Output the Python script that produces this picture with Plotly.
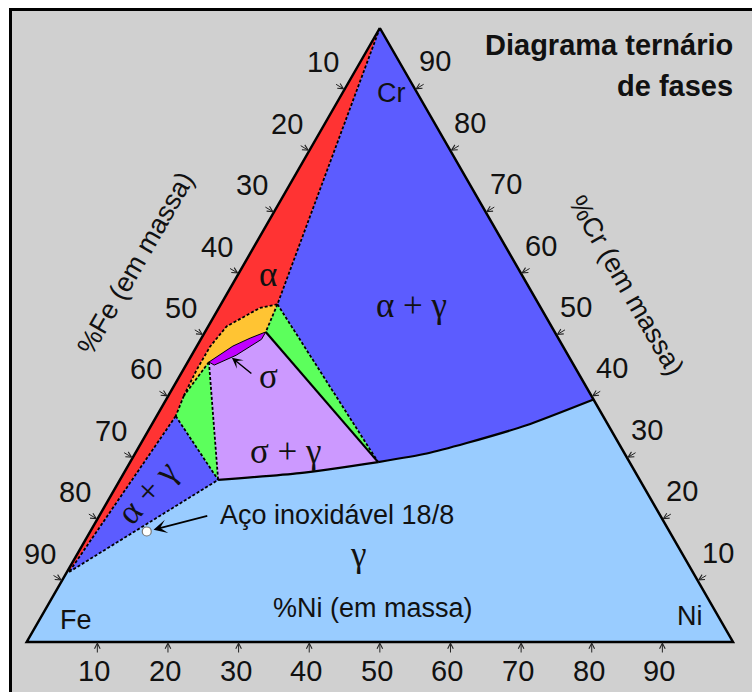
import math
import plotly.graph_objects as go

# ---------------------------------------------------------------------------
# Data: Fe-Cr-Ni isothermal section. Every point is (%Cr, %Ni); %Fe = rest.
# ---------------------------------------------------------------------------
ticks = [10, 20, 30, 40, 50, 60, 70, 80, 90]

corners = [(100.0, 0.0), (0.0, 0.0), (0.0, 100.0)]          # Cr, Fe, Ni

alpha_edge = [(100.0, 0.0), (55.0, 8.0)]
yellow_upper = [(55.0, 8.0), (54.4, 5.8), (51.4, 2.6), (48.1, 1.9),
                (44.3, 1.9), (40.1, 2.2)]
yellow_right = [(55.0, 8.0), (50.5, 8.6)]
sigma_upper = [(50.5, 8.6), (49.5, 6.9), (48.2, 5.1), (45.9, 3.2), (45.6, 3.0)]
sigma_lower = [(45.6, 3.0), (45.1, 4.0), (46.7, 6.3), (49.3, 8.6), (50.5, 8.6)]
yellow_lower = [(45.6, 3.0), (43.0, 2.6), (40.1, 2.2)]
red_green = [(40.1, 2.2), (36.8, 2.7)]
red_blue = [(36.8, 2.7), (11.4, 0.3)]
green_blue = [(36.8, 2.7), (26.4, 13.9)]
lav_left = [(45.6, 3.0), (26.4, 13.9)]
blue_gamma = [(11.4, 0.3), (26.4, 13.9)]
lav_bottom = [(26.4, 13.9), (27.5, 24.9), (29.3, 35.1)]
lav_right = [(50.5, 8.6), (29.3, 35.1)]
green_edge = [(55.0, 8.0), (29.3, 35.1)]
gamma_limit = [(29.3, 35.1), (30.7, 41.3), (32.4, 46.1), (35.3, 53.1), (39.5, 60.5)]
alpha_foot = (11.6, 0.0)

steel_18_8 = (18.0, 8.0)

# ---------------------------------------------------------------------------
SQ3 = math.sqrt(3) / 2.0


def tern(cr, ni):
    """(%Cr, %Ni) -> cartesian position inside the unit-100 triangle."""
    return ni + cr / 2.0, cr * SQ3


def xy(points):
    pts = [tern(cr, ni) for cr, ni in points]
    return [p[0] for p in pts], [p[1] for p in pts]


def rev(p):
    return p[::-1]


W, H = 752, 692
BLUE_DARK = "#5c5cff"
BLUE_LIGHT = "#99ccff"
RED = "#ff3333"
YELLOW = "#ffc433"
GREEN = "#5cff5c"
LAVENDER = "#cc99ff"
PURPLE = "#c000ff"
GRAY = "#d0d0d0"
SANS = "Liberation Sans, Arial, sans-serif"
SERIF = "Liberation Serif, Times New Roman, serif"

regions = [
    (BLUE_LIGHT, corners),
    (BLUE_DARK, [alpha_edge[0]] + rev(gamma_limit) + [alpha_edge[1]]),
    (RED, alpha_edge + yellow_upper[1:] + red_green[1:] + red_blue[1:] + [alpha_foot]),
    (YELLOW, yellow_right + sigma_upper[1:] + yellow_lower[1:] + rev(yellow_upper)[1:]),
    (GREEN, green_edge + [yellow_right[1]]),
    (GREEN, lav_left + rev(green_blue)[1:] + rev(red_green)[1:] + rev(yellow_lower)[1:]),
    (LAVENDER, lav_right + rev(lav_bottom)[1:] + rev(lav_left)[1:] + sigma_lower[1:]),
    (PURPLE, sigma_upper + sigma_lower[1:]),
    (BLUE_DARK, green_blue + rev(blue_gamma)[1:] + rev(red_blue)[1:]),
]

dashed = [alpha_edge, yellow_upper, yellow_right, yellow_lower, red_green,
          red_blue, green_blue, lav_left, blue_gamma, green_edge]
solid = [lav_bottom, lav_right, gamma_limit]
thin = [sigma_upper, sigma_lower]

fig = go.Figure()

for color, poly in regions:
    xs, ys = xy(poly)
    fig.add_trace(go.Scatter(x=xs, y=ys, mode="lines", fill="toself",
                             fillcolor=color, line=dict(width=0),
                             hoverinfo="skip", showlegend=False))

for seg in dashed:
    xs, ys = xy(seg)
    fig.add_trace(go.Scatter(x=xs, y=ys, mode="lines",
                             line=dict(color="black", width=1.8, dash="3px,2px"),
                             hoverinfo="skip", showlegend=False))
for seg in solid:
    xs, ys = xy(seg)
    fig.add_trace(go.Scatter(x=xs, y=ys, mode="lines", line_shape="spline",
                             line=dict(color="black", width=2.2, smoothing=0.6),
                             hoverinfo="skip", showlegend=False))
for seg in thin:
    xs, ys = xy(seg)
    fig.add_trace(go.Scatter(x=xs, y=ys, mode="lines",
                             line=dict(color="black", width=1.0),
                             hoverinfo="skip", showlegend=False))

# triangle frame
xs, ys = xy(corners + [corners[0]])
fig.add_trace(go.Scatter(x=xs, y=ys, mode="lines",
                         line=dict(color="black", width=2.5),
                         hoverinfo="skip", showlegend=False))

# 18/8 stainless steel composition
sx, sy = tern(*steel_18_8)
fig.add_trace(go.Scatter(x=[sx], y=[sy], mode="markers",
                         marker=dict(size=9, color="white",
                                     line=dict(color="#777777", width=1.2)),
                         hoverinfo="skip", showlegend=False))

ann = []


def tick_arrow(x, y, ax, ay):
    ann.append(dict(x=x, y=y, ax=ax, ay=ay, text="", showarrow=True,
                    arrowhead=5, arrowsize=1.1, arrowwidth=1,
                    arrowcolor="#222222"))


def text(x, y, s, size=29, font=SANS, color="#111111", **kw):
    ann.append(dict(x=x, y=y, text=s, showarrow=False,
                    font=dict(family=font, size=size, color=color), **kw))


for v in ticks:
    # %Fe along the Fe-Cr edge
    x, y = tern(100 - v, 0)
    tick_arrow(x, y, -10, -6)
    text(x, y, str(v), xshift=-22, yshift=27)
    # %Cr along the Cr-Ni edge
    x, y = tern(v, 100 - v)
    tick_arrow(x, y, 10, -6)
    text(x, y, str(v), xshift=20, yshift=28)
    # %Ni along the Fe-Ni edge
    x, y = tern(0, v)
    tick_arrow(x, y, 0, 12)
    text(x, y, str(v), xshift=-3, yshift=-29)

# axis titles and corner names
text(*tern(5.5, 46.3), "%Ni (em massa)", size=27)
text(*tern(61.7, -15.4), "%Fe (em massa)", size=27, textangle=-60)
text(*tern(58.1, 55.8), "%Cr (em massa)", size=27, textangle=60)
text(*tern(89.4, 6.9), "Cr", size=27)
text(*tern(3.6, 5.2), "Fe", size=27)
text(*tern(4.2, 91.8), "Ni", size=27)

# phase labels
GREEK = 35
text(*tern(59.8, 4.2), "α", size=GREEK, font=SERIF)
text(*tern(54.8, 27.1), "α + γ", size=GREEK, font=SERIF)
text(*tern(31.1, 21.1), "σ + γ", size=GREEK, font=SERIF)
text(*tern(43.2, 12.7), "σ", size=GREEK, font=SERIF)
text(*tern(24.3, 4.9), "α + γ", size=GREEK, font=SERIF, textangle=-48)
text(*tern(14.2, 39.8), "γ", size=GREEK, font=SERIF)

# pointer to the sigma sliver
px, py = tern(46.3, 5.9)
ann.append(dict(x=px, y=py, ax=21, ay=17, text="", showarrow=True,
                arrowhead=3, arrowsize=1.2, arrowwidth=1.5, arrowcolor="black"))

# 18/8 steel callout
text(*tern(20.7, 16.75), "Aço inoxidável 18/8", size=27, xanchor="left")
ann.append(dict(x=sx, y=sy, ax=62, ay=-16, text="", showarrow=True,
                arrowhead=3, arrowsize=1.4, arrowwidth=1.6, arrowcolor="black",
                standoff=7))

# title block
ann.append(dict(xref="paper", yref="paper", x=735 / W, y=1 - 45 / H,
                xanchor="right", yanchor="middle", showarrow=False,
                text="<b>Diagrama ternário</b>",
                font=dict(family=SANS, size=29, color="#111111")))
ann.append(dict(xref="paper", yref="paper", x=735 / W, y=1 - 86 / H,
                xanchor="right", yanchor="middle", showarrow=False,
                text="<b>de fases</b>",
                font=dict(family=SANS, size=29, color="#111111")))

# pixel placement of the triangle: Fe corner at (26.7, 642), side 706.3 px
kx = 706.3 / 100.0
ky = 614.0 / (100.0 * SQ3)
x_lo = -26.7 / kx
x_hi = x_lo + W / kx
y_hi = 642.0 / ky
y_lo = y_hi - H / ky

fig.update_layout(
    width=W, height=H,
    margin=dict(l=0, r=0, t=0, b=0),
    paper_bgcolor="white",
    plot_bgcolor="rgba(0,0,0,0)",
    xaxis=dict(range=[x_lo, x_hi], visible=False, fixedrange=True),
    yaxis=dict(range=[y_lo, y_hi], visible=False, fixedrange=True),
    annotations=ann,
    shapes=[dict(type="rect", xref="paper", yref="paper", layer="below",
                 x0=10.5 / W, x1=1.05, y0=-0.05, y1=1 - 9.5 / H,
                 fillcolor=GRAY, line=dict(color="black", width=3))],
    showlegend=False,
)

fig.write_html("out.html")
